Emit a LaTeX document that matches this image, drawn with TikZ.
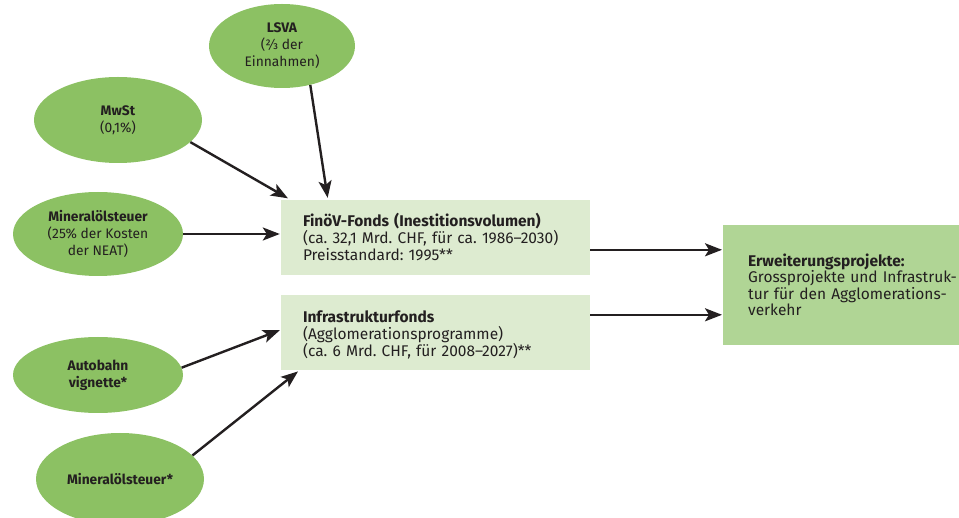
\documentclass[tikz,border=0pt]{standalone}
\usepackage{fontspec}
\setmainfont{Fira Sans}
\usetikzlibrary{shapes.geometric,arrows.meta,calc}
\definecolor{ellgreen}{HTML}{8CC163}
\definecolor{boxlight}{HTML}{DDEBD0}
\definecolor{boxmid}{HTML}{B0D595}
\definecolor{ink}{HTML}{231F20}
\tikzset{
  src/.style={ellipse, fill=ellgreen, inner sep=0pt, align=center, text=ink,
    font=\fontsize{13.8}{17}\selectfont},
  fund/.style={rectangle, fill=boxlight, inner xsep=22pt, inner ysep=0pt,
    minimum height=75pt, text width=265pt, align=left, text=ink,
    font=\fontsize{15.5}{17}\selectfont},
  arr/.style={draw=ink, line width=2.4pt,
    -{Stealth[length=17pt,width=13pt,inset=4pt]}, shorten >=1pt}
}
\begin{document}
\frenchspacing
\begin{tikzpicture}[x=1pt,y=-1pt]
\useasboundingbox (0,0) rectangle (959,518);
% sources
\node[src, minimum width=146pt, minimum height=84pt] (lsva) at (282,46)
  {\textbf{LSVA}\\(⅔ der\\Einnahmen)};
\node[src, minimum width=168pt, minimum height=86pt] (mwst) at (118,120)
  {\textbf{MwSt}\\(0,1\%)};
\node[src, minimum width=170pt, minimum height=84pt] (mineral) at (98,234)
  {\textbf{Mineralölsteuer}\\(25\% der Kosten\\der NEAT)};
\node[src, minimum width=170pt, minimum height=76pt] (vignette) at (98,375)
  {\textbf{Autobahn}\\\textbf{vignette*}};
\node[src, minimum width=168pt, minimum height=92pt] (mineralb) at (120,479)
  {\textbf{Mineralölsteuer*}};
% funds
\node[fund] (finoev) at (435.5,237.5)
  {\textbf{FinöV-Fonds (Inestitionsvolumen)}\\(ca. 32,1 Mrd. CHF, für ca. 1986–2030)\\Preisstandard: 1995**};
\node[fund, text depth=31.5pt] (infra) at (435.5,332.5)
  {\textbf{Infrastrukturfonds}\\(Agglomerationsprogramme)\\(ca. 6 Mrd. CHF, für 2008–2027)**};
% target
\node[rectangle, fill=boxmid, minimum height=120pt, anchor=west,
  inner xsep=25pt, text width=215pt, align=left, text=ink,
  font=\fontsize{15.5}{16.5}\selectfont] (erw) at (723,285)
  {\textbf{Erweiterungsprojekte:}\\Grossprojekte und Infrastruk-\\tur für den Agglomerations-\\verkehr};
% connectors
\draw[arr] (lsva.-54) -- ($(finoev.north west)+(47,-1)$);
\draw[arr] (mwst.-17) -- ($(finoev.north west)+(8,-1)$);
\draw[arr] (mineral.east) -- (mineral.east -| finoev.west);
\draw[arr] (vignette.5) -- ($(infra.north west)+(0,35)$);
\draw[arr] (mineralb.18) -- ($(infra.north west)+(18,76)$);
\draw[arr] ($(finoev.north east)+(0,50)$) -- ($(erw.north west)+(0,25)$);
\draw[arr] ($(infra.north east)+(0,20)$) -- ($(erw.north west)+(0,90)$);
\end{tikzpicture}
\end{document}
